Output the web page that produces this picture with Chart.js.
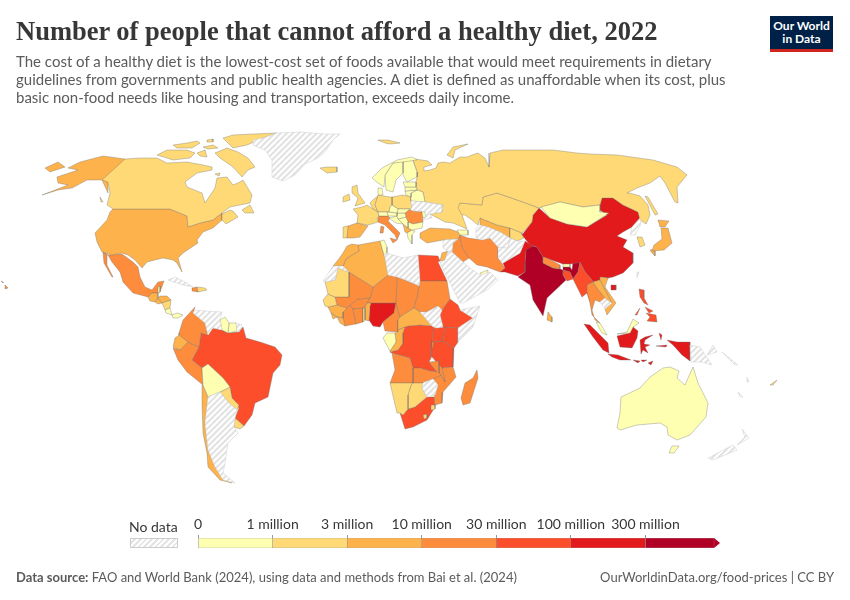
<!DOCTYPE html>
<html lang="en">
<head>
<meta charset="UTF-8" />
<title>Number of people that cannot afford a healthy diet, 2022</title>
<style>
  html, body { margin: 0; background: #fff; }
  #page { position: relative; width: 850px; height: 600px; overflow: hidden; font-family: Lato, sans-serif; }
  #page > * { position: absolute; }
  #map { left: 0; top: 0; }
  #legend { left: 120px; top: 505px; }
  h1 { left: 16px; top: 14px; margin: 0; font: bold 26.5px/34px "Liberation Serif", serif; color: #373737; white-space: nowrap; }
  #sub { left: 16px; top: 52px; margin: 0; font-size: 15px; line-height: 18px; color: #5b5b5b; white-space: nowrap; }
  #logo { left: 770px; top: 16px; width: 63px; height: 30px; padding-top: 3px; background: #002147; border-bottom: 3px solid #ce261e; color: #fff; font-size: 12px; font-weight: 700; line-height: 13px; text-align: center; }
  #nodata { left: 129px; top: 518px; width: 48px; text-align: center; font-size: 14px; color: #373737; white-space: nowrap; }
  #swatch { left: 130px; top: 538px; width: 46px; height: 8px; border: 1px solid #ccc;
    background: repeating-linear-gradient(135deg, #fff 0 2px, #e4e4e4 2px 4px); }
  #src { left: 16px; top: 569px; font-size: 13px; color: #5b5b5b; }
  #url { right: 16px; top: 569px; font-size: 13px; color: #5b5b5b; }
</style>
</head>
<body>
<div id="page">
  <canvas id="map" width="850" height="600"></canvas>
  <canvas id="legend" width="610" height="56"></canvas>
  <h1>Number of people that cannot afford a healthy diet, 2022</h1>
  <p id="sub">The cost of a healthy diet is the lowest-cost set of foods available that would meet requirements in dietary<br>guidelines from governments and public health agencies. A diet is defined as unaffordable when its cost, plus<br>basic non-food needs like housing and transportation, exceeds daily income.</p>
  <div id="logo">Our World<br>in Data</div>
  <div id="nodata">No data</div>
  <div id="swatch"></div>
  <div id="src"><b>Data source:</b> FAO and World Bank (2024), using data and methods from Bai et al. (2024)</div>
  <div id="url">OurWorldinData.org/food-prices | CC BY</div>
</div>

<script src="https://cdn.jsdelivr.net/npm/chart.js"></script>
<script>
  // legend
  const tickLabels = ['0', '1 million', '3 million', '10 million', '30 million', '100 million', '300 million', ''];
  const binColors = ['#ffffb2', '#fed976', '#feb24c', '#fd8d3c', '#fc4e2a', '#e31a1c', '#b10026'];
  const binWidths = [1, 1, 1, 1, 1, 1, 0.92];

  // outlines, in map units: no data
  const greenland = [[253,140],[263,138],[277,133],[300,132],[325,134],[340,134],[333,140],[325,152],[318,158],[305,164],[295,175],[283,181],[272,177],[272,160],[265,150],[253,145]];
  const ukraine = [[412,208],[411,201],[425,202],[443,205],[442,212],[430,214],[432,218],[423,220],[426,217],[425,212],[421,211],[413,211],[410,209]];
  const venezuela = [[193,313],[195,310],[205,311],[222,312],[220,320],[222,330],[213,328],[208,335],[205,323]];
  const frGuiana = [[236,323],[242,325],[239,332],[237,331]];
  const argentina = [[208,397],[220,392],[228,402],[237,410],[235,418],[234,427],[238,433],[228,443],[225,463],[223,473],[235,483],[223,480],[215,467],[208,450],[205,423]];
  const cuba = [[168,280],[175,277],[185,282],[193,287],[183,285]];
  const westSahara = [[323,281],[333,266],[343,266],[349,272],[338,268],[335,280],[325,282]];
  const libya = [[384,255],[387,253],[393,255],[403,258],[418,255],[420,281],[419,286],[410,281],[397,277],[388,275],[385,258]];
  const southSudan = [[420,312],[427,312],[438,306],[442,310],[440,315],[443,327],[436,328],[432,326]];
  const somalia = [[460,310],[480,306],[473,327],[458,342],[458,328],[473,318]];
  const arabia = [[440,263],[445,260],[448,251],[452,252],[463,262],[470,268],[480,275],[490,272],[498,280],[487,290],[463,303],[460,303],[450,283]];
  const syria = [[443,240],[458,239],[453,243],[452,252],[448,251],[443,248]];
  const turkmenistan = [[476,228],[480,225],[488,227],[500,232],[510,238],[508,248],[498,247],[490,238],[482,240],[476,238]];
  const afghanistan = [[498,247],[508,248],[510,238],[517,241],[525,241],[520,253],[503,263],[498,258]];
  const zimbabwe = [[423,383],[425,382],[433,379],[438,385],[435,395],[427,397],[422,388]];
  const cambodia = [[600,302],[605,298],[607,300],[612,303],[605,309]];
  const northKorea = [[632,227],[640,218],[641,222],[640,226],[635,235],[630,235]];
  const taiwan = [[637,272],[639,272],[637,278]];
  const png = [[690,345],[700,347],[712,365],[702,362],[691,362]];
  const newZealandN = [[742,429],[749,438],[737,445],[745,437]];
  const newZealandS = [[733,445],[737,450],[713,460],[708,458]];
  const newBritain = [[713,345],[717,352],[707,355]];
  const solomons = [[722,352],[738,365],[735,365]];
  const vanuatu = [[747,377],[749,382],[747,382]];
  const newCaledonia = [[738,392],[743,397],[740,397]];

  // 0 to 1 million
  const norway = [[372,178],[382,168],[397,160],[412,157],[417,160],[403,162],[393,163],[385,175],[384,187],[378,183]];
  const sweden = [[385,175],[393,163],[403,161],[403,173],[396,180],[393,192],[386,190]];
  const finland = [[403,162],[412,158],[417,172],[417,177],[407,182],[403,175]];
  const denmark = [[378,188],[382,188],[383,195],[378,195]];
  const estonia = [[403,182],[416,182],[416,187],[405,187]];
  const latvia = [[405,187],[416,187],[417,190],[405,191]];
  const lithuania = [[405,191],[417,190],[411,193],[411,197],[406,195]];
  const belarus = [[411,193],[417,190],[423,192],[425,202],[411,201]];
  const switzerland = [[378,212],[387,212],[388,216],[379,216]];
  const czechia = [[390,207],[392,205],[398,209],[397,213],[389,212]];
  const austria = [[387,212],[389,212],[397,213],[397,216],[388,216]];
  const slovakia = [[398,209],[410,209],[405,213],[397,213]];
  const hungary = [[397,213],[405,213],[406,217],[398,219],[397,216]];
  const croatia = [[389,218],[397,216],[398,219],[403,224],[396,223]];
  const serbia = [[398,219],[406,217],[408,222],[408,228],[403,224]];
  const bulgaria = [[408,222],[413,224],[423,222],[422,228],[412,230],[408,228]];
  const moldova = [[421,211],[425,212],[426,217],[423,218],[422,212]];
  const greece = [[407,233],[412,230],[415,231],[412,235],[412,244],[408,238]];
  const tunisia = [[380,241],[384,240],[387,247],[387,253],[384,255]];
  const uae = [[480,273],[488,270],[487,277],[482,277]];
  const caucasus = [[457,230],[468,230],[468,235],[460,235]];
  const gabon = [[383,338],[387,333],[395,333],[396,342],[390,351]];
  const guyana = [[220,320],[225,317],[229,323],[228,333],[222,330]];
  const suriname = [[229,323],[236,323],[237,331],[228,333]];
  const bolivia = [[208,364],[223,378],[230,387],[220,392],[208,397],[203,385],[202,368]];
  const belize = [[158,287],[160,286],[160,292],[158,293]];
  const costaRica = [[165,310],[170,308],[172,315],[166,313]];
  const panama = [[172,315],[177,313],[183,315],[178,318],[173,318]];
  const mongolia = [[541,207],[560,202],[583,207],[600,205],[600,212],[609,213],[587,227],[567,224],[550,218]];
  const bhutan = [[563,264],[570,264],[570,267],[563,267]];
  const malaya = [[596,322],[600,323],[607,335],[602,333]];
  const sabah = [[617,334],[627,332],[633,319],[639,323],[633,327],[630,333]];
  const australia = [[621,397],[640,388],[650,377],[663,368],[670,367],[679,371],[677,378],[685,385],[693,367],[698,383],[708,403],[706,417],[690,435],[677,440],[668,435],[667,427],[660,423],[637,425],[620,430],[617,428],[620,413]];
  const tasmania = [[672,446],[679,446],[674,453],[669,453]];

  // 1 to 3 million
  const canada = [[125,159],[102,180],[108,182],[110,193],[107,205],[113,209],[170,209],[187,216],[188,227],[200,223],[213,220],[222,213],[230,207],[250,203],[252,195],[243,180],[240,182],[233,185],[227,177],[217,178],[215,188],[205,203],[202,193],[187,187],[185,182],[197,173],[212,170],[212,167],[203,165],[187,162],[167,163],[157,158],[140,158]];
  const baffin = [[215,153],[227,148],[238,152],[248,158],[255,167],[248,170],[242,177],[233,167],[220,158]];
  const victoria = [[157,155],[167,150],[187,150],[195,153],[190,158],[173,160],[167,158]];
  const ellesmere = [[223,138],[233,135],[253,134],[277,133],[263,138],[247,145],[233,148],[227,142]];
  const devon = [[203,147],[213,145],[218,148],[208,149]];
  const melville = [[173,145],[187,143],[197,141],[200,143],[192,148],[177,148]];
  const axelHeiberg = [[207,140],[213,139],[213,142],[207,142]];
  const somerset = [[197,153],[205,150],[207,157],[200,156]];
  const southampton = [[215,174],[220,173],[219,176]];
  const newfoundland = [[242,210],[250,205],[254,213],[245,213]];
  const maritimes = [[222,214],[230,210],[233,211],[238,217],[226,224],[222,220]];
  const vancouver = [[100,197],[103,202],[101,202]];
  const iceland = [[320,168],[327,167],[337,167],[337,172],[327,173]];
  const svalbard = [[378,140],[388,140],[400,143],[390,144],[385,143]];
  const uk = [[352,187],[357,185],[358,193],[365,203],[355,206],[358,198],[352,193]];
  const ireland = [[343,197],[349,194],[350,200],[343,202]];
  const france = [[353,209],[362,207],[367,205],[373,209],[378,212],[379,216],[377,218],[378,222],[368,225],[357,223],[358,215]];
  const portugal = [[343,227],[348,226],[347,238],[343,238]];
  const germany = [[378,195],[390,197],[392,197],[392,205],[390,207],[389,212],[387,212],[378,212],[375,205]];
  const benelux = [[370,203],[374,199],[378,196],[375,205],[378,212],[373,209]];
  const poland = [[392,197],[403,195],[411,197],[411,201],[412,208],[410,209],[398,209],[392,205]];
  const russia = [[413,160],[417,172],[417,177],[416,182],[417,190],[423,192],[425,202],[443,205],[442,212],[430,214],[445,222],[453,223],[467,229],[462,215],[458,208],[460,203],[482,205],[483,197],[497,193],[523,202],[539,208],[542,207],[560,202],[583,207],[600,205],[602,198],[613,198],[623,205],[638,212],[640,220],[646,224],[650,215],[648,205],[640,196],[630,193],[627,193],[637,188],[650,183],[660,176],[665,183],[675,202],[678,203],[677,187],[687,175],[677,167],[653,160],[617,155],[590,154],[577,153],[553,150],[503,150],[490,153],[489,167],[485,158],[478,153],[472,155],[467,157],[460,157],[450,163],[443,162],[438,163],[436,168],[430,170],[424,171],[424,167],[432,165],[428,161],[415,159]];
  const novayaZemlya = [[447,155],[453,147],[468,144],[455,150],[453,158]];
  const sakhalin = [[645,196],[648,197],[658,214],[655,215]];
  const kazakhstan = [[457,208],[460,203],[482,205],[483,197],[497,193],[523,202],[539,208],[533,215],[532,222],[522,233],[510,228],[497,225],[480,218],[478,225],[472,220],[465,215],[460,215]];
  const kyrgyzstan = [[510,228],[522,233],[522,235],[524,238],[517,241],[510,238]];
  const mauritania = [[325,282],[335,280],[338,268],[349,272],[349,297],[335,297],[328,294]];
  const senegal = [[323,300],[328,294],[335,297],[337,305],[328,307],[325,306]];
  const togo = [[363,308],[365,308],[365,320],[363,322]];
  const namibia = [[390,383],[413,383],[411,385],[408,395],[408,409],[403,415],[400,413],[397,413]];
  const botswana = [[411,385],[413,383],[423,383],[422,388],[427,397],[415,407],[408,409],[408,395]];
  const eswatini = [[431,405],[435,405],[435,409],[432,410]];
  const lesotho = [[423,415],[427,414],[427,418],[424,419]];
  const paraguay = [[220,392],[230,387],[232,398],[239,405],[237,410],[228,402]];
  const uruguay = [[235,418],[244,426],[240,429],[234,427]];
  const nicaragua = [[162,303],[171,300],[170,308],[165,310]];
  const domRepublic = [[197,287],[205,288],[207,290],[198,292]];
  const southKorea = [[637,237],[642,237],[645,245],[640,247]];
  const fiji = [[770,385],[777,380],[773,385]];

  // 3 to 10 million
  const usa = [[113,209],[170,209],[187,216],[188,227],[200,223],[213,220],[222,213],[222,220],[213,228],[203,232],[197,240],[198,243],[183,253],[178,258],[182,272],[177,263],[173,260],[163,258],[147,262],[142,268],[135,260],[128,255],[122,253],[112,255],[102,252],[97,242],[95,233],[107,220],[110,212]];
  const alaska = [[125,159],[103,156],[80,162],[68,168],[78,170],[57,177],[58,183],[68,185],[42,195],[58,190],[72,188],[87,180],[102,180],[108,193],[108,182]];
  const aleutian = [[45,168],[58,162],[65,167],[50,172]];
  const guatemala = [[148,297],[152,293],[158,293],[158,298],[155,302],[150,301]];
  const honduras = [[158,298],[160,296],[167,296],[171,300],[162,303]];
  const salvador = [[155,302],[158,298],[162,303],[158,304]];
  const ecuador = [[175,338],[179,335],[188,342],[180,350],[173,347]];
  const chile = [[202,385],[204,387],[208,397],[205,423],[208,450],[215,467],[223,478],[232,483],[220,480],[208,467],[207,453],[203,433],[202,403]];
  const spain = [[348,226],[357,223],[368,226],[360,237],[353,238],[347,238]];
  const albania = [[403,224],[408,228],[412,230],[407,233],[405,232]];
  const morocco = [[333,266],[338,260],[343,253],[347,246],[352,244],[358,245],[359,251],[352,255],[346,259],[343,266]];
  const algeria = [[343,266],[346,259],[352,255],[359,251],[358,245],[380,241],[384,255],[385,258],[388,275],[373,287],[349,272]];
  const jordan = [[442,253],[448,251],[445,260],[440,261]];
  const turkey = [[420,233],[430,228],[450,229],[458,232],[460,235],[458,239],[443,240],[427,243],[420,238]];
  const uzbekistan = [[480,218],[497,225],[510,228],[510,238],[500,232],[488,227],[480,225]];
  const srilanka = [[548,312],[552,317],[552,322],[547,320]];
  const laos = [[593,282],[600,280],[605,290],[612,303],[607,300],[605,298],[597,288]];
  const vietnam = [[600,277],[608,278],[605,287],[616,303],[607,315],[605,309],[612,303],[605,290],[600,280]];
  const japanHonshu = [[661,228],[668,228],[672,243],[664,250],[652,251],[654,245],[662,239]];
  const japanHokkaido = [[658,220],[669,221],[665,227],[660,227]];
  const japanKyushu = [[650,250],[655,249],[655,256],[652,253]];
  const benin = [[365,308],[367,303],[371,303],[370,306],[369,321],[365,320]];
  const liberia = [[337,317],[343,318],[345,326],[340,323]];
  const sierraLeone = [[331,313],[337,317],[333,319]];
  const guinea = [[328,307],[337,305],[347,308],[343,312],[343,318],[337,317],[331,313]];
  const congo = [[395,333],[398,332],[398,330],[405,327],[403,333],[403,343],[398,350],[390,352],[390,351],[396,342]];
  const car = [[398,320],[400,317],[414,308],[420,312],[432,326],[420,325],[408,326],[405,327],[398,330]];

  // 10 to 30 million
  const hawaii = [[1,281],[3,282],[3,283]];
  const hawaiiBig = [[5,285],[8,288],[5,289]];
  const mexico = [[103,252],[108,255],[122,254],[133,262],[138,267],[140,277],[145,287],[152,290],[158,282],[164,281],[160,292],[158,293],[152,293],[148,297],[133,293],[123,282],[120,272],[112,262],[108,255]];
  const baja = [[103,252],[104,263],[112,277],[113,277],[107,265],[107,255]];
  const haiti = [[192,288],[197,287],[198,292],[192,291]];
  const colombia = [[195,307],[183,320],[179,333],[179,335],[188,342],[199,347],[201,333],[208,335],[205,323],[193,313]];
  const peru = [[173,348],[180,350],[188,342],[199,347],[192,360],[202,368],[203,385],[187,372],[178,360]];
  const romania = [[406,217],[405,213],[410,209],[413,211],[422,212],[423,222],[413,224],[408,222]];
  const italy = [[378,218],[379,216],[388,216],[390,218],[388,221],[395,228],[400,233],[397,240],[395,235],[385,225],[378,222]];
  const sicily = [[390,238],[397,240],[393,243]];
  const sardinia = [[381,226],[384,227],[383,233],[380,233]];
  const iran = [[460,235],[468,238],[482,240],[490,238],[498,247],[498,258],[505,268],[500,272],[487,267],[477,265],[469,258],[462,247]];
  const iraq = [[458,239],[460,235],[462,247],[469,258],[463,262],[452,252],[453,243]];
  const nepal = [[543,257],[547,258],[560,265],[560,269],[553,268],[543,263]];
  const thailand = [[587,285],[593,282],[597,288],[605,298],[600,302],[595,300],[592,310],[595,320],[600,323],[592,315],[590,303],[587,292]];
  const mali = [[349,272],[373,287],[370,298],[358,299],[350,305],[347,308],[337,305],[335,297],[349,297]];
  const niger = [[373,287],[388,275],[397,277],[396,303],[387,303],[371,303],[367,303],[370,298]];
  const chad = [[397,277],[419,286],[417,297],[415,303],[414,308],[400,317],[396,303]];
  const sudan = [[420,281],[447,281],[450,299],[442,310],[438,306],[427,312],[420,312],[414,308],[415,303],[417,297],[419,286]];
  const cameroon = [[396,303],[400,317],[398,320],[398,332],[385,331],[383,322],[394,313]];
  const ghana = [[353,309],[363,308],[363,322],[356,324]];
  const burkina = [[350,305],[358,299],[370,298],[367,303],[365,308],[353,309]];
  const ivoryCoast = [[343,312],[347,308],[350,305],[353,309],[356,324],[345,326],[343,318]];
  const rwanda = [[432,342],[434,342],[433,348],[431,348]];
  const angola = [[392,353],[410,358],[413,368],[413,383],[390,383],[395,370]];
  const zambia = [[413,368],[420,368],[430,371],[437,372],[429,362],[439,361],[439,365],[439,373],[441,375],[433,379],[425,382],[423,383],[413,383]];
  const malawi = [[439,365],[442,368],[445,382],[442,377],[439,373]];
  const mozambique = [[442,368],[453,367],[456,377],[443,392],[442,403],[435,405],[434,397],[435,395],[438,385],[433,379],[441,375],[439,373],[442,377],[445,382]];
  const madagascar = [[477,370],[478,378],[470,403],[463,405],[461,398],[465,383],[473,378]];

  // 30 to 100 million
  const brazil = [[213,328],[222,330],[228,333],[239,332],[243,327],[246,338],[260,342],[275,347],[282,355],[280,365],[273,373],[268,397],[255,403],[252,415],[244,426],[235,418],[239,408],[232,398],[230,387],[223,378],[208,364],[202,368],[192,360],[199,347],[201,333],[208,335]];
  const egypt = [[418,255],[438,256],[440,261],[438,262],[447,281],[420,281]];
  const ethiopia = [[450,299],[458,305],[460,310],[473,318],[458,328],[445,327],[443,327],[440,315],[442,310]];
  const kenya = [[445,327],[458,328],[458,342],[454,348],[443,341]];
  const uganda = [[436,328],[445,327],[443,341],[432,342],[433,330]];
  const tanzania = [[432,342],[443,341],[454,348],[453,367],[442,368],[439,365],[432,357]];
  const drc = [[403,333],[405,327],[408,326],[420,325],[432,326],[436,328],[433,330],[432,342],[431,348],[432,357],[429,362],[437,372],[430,371],[420,368],[413,368],[410,358],[392,353],[390,352],[398,350],[403,343]];
  const southAfrica = [[400,413],[403,415],[408,409],[415,407],[427,397],[434,397],[435,405],[435,407],[427,420],[413,427],[405,429]];
  const bangladesh = [[563,270],[570,272],[573,279],[567,281],[563,275]];
  const myanmar = [[580,262],[585,272],[592,280],[593,282],[587,285],[592,308],[587,293],[582,297],[573,279],[578,272]];
  const luzon = [[639,289],[644,290],[644,298],[648,305],[644,303],[640,297]];
  const mindanao = [[646,313],[656,315],[657,322],[647,321],[650,317]];
  const palawan = [[635,315],[640,308],[637,315]];
  const visayas = [[645,307],[653,311],[649,313]];

  // 100 to 300 million
  const china = [[539,208],[550,218],[567,224],[587,227],[607,215],[600,210],[600,205],[602,198],[613,198],[623,205],[638,212],[640,218],[632,227],[623,232],[617,236],[627,240],[623,247],[633,253],[633,263],[623,273],[613,277],[608,278],[600,277],[600,280],[593,282],[592,280],[585,272],[580,262],[578,263],[570,264],[563,264],[543,257],[537,247],[530,245],[522,235],[532,222],[533,215]];
  const hainan = [[611,285],[616,285],[616,290],[611,290]];
  const pakistan = [[500,272],[505,268],[503,263],[520,253],[525,241],[533,246],[526,250],[525,263],[525,272],[518,276],[505,272]];
  const nigeria = [[371,303],[387,303],[396,303],[394,313],[383,322],[380,327],[373,326],[369,320],[370,306]];
  const sumatra = [[584,324],[590,325],[600,335],[608,343],[609,353],[603,350],[593,337]];
  const java = [[608,354],[618,355],[631,360],[620,360],[612,357]];
  const kalimantan = [[617,336],[630,333],[633,327],[638,331],[637,338],[632,348],[620,347]];
  const sulawesi = [[640,340],[645,337],[653,335],[645,340],[644,344],[650,345],[645,347],[648,353],[643,350],[641,354]];
  const westPapua = [[667,340],[677,342],[690,342],[690,361],[682,355],[673,345]];
  const bali = [[633,360],[640,361],[638,363]];
  const flores = [[641,360],[647,360],[643,362]];
  const timor = [[648,363],[653,361],[651,365]];
  const halmahera = [[659,333],[662,335],[661,340]];
  const ceram = [[656,346],[667,345],[666,347]];

  // over 300 million
  const india = [[526,246],[533,246],[537,247],[543,257],[543,263],[553,268],[560,269],[563,270],[563,275],[566,280],[547,298],[543,316],[533,300],[530,285],[518,277],[525,272],[525,263],[526,250]];
  const indiaEast = [[563,267],[570,267],[572,270],[573,262],[580,262],[578,272],[573,279],[570,272],[563,270]];

  const noDataShapes = [greenland, ukraine, venezuela, frGuiana, argentina, cuba, westSahara, libya, southSudan, somalia, arabia, syria, turkmenistan, afghanistan, zimbabwe, cambodia, northKorea, taiwan, png, newZealandN, newZealandS, newBritain, solomons, vanuatu, newCaledonia];
  const binShapes = [
    [norway, sweden, finland, denmark, estonia, latvia, lithuania, belarus, switzerland, czechia, austria, slovakia, hungary, croatia, serbia, bulgaria, moldova, greece, tunisia, uae, caucasus, gabon, guyana, suriname, bolivia, belize, costaRica, panama, mongolia, bhutan, malaya, sabah, australia, tasmania],
    [canada, baffin, victoria, ellesmere, devon, melville, axelHeiberg, somerset, southampton, newfoundland, maritimes, vancouver, iceland, svalbard, uk, ireland, france, portugal, germany, benelux, poland, russia, novayaZemlya, sakhalin, kazakhstan, kyrgyzstan, mauritania, senegal, togo, namibia, botswana, eswatini, lesotho, paraguay, uruguay, nicaragua, domRepublic, southKorea, fiji],
    [usa, alaska, aleutian, guatemala, honduras, salvador, ecuador, chile, spain, albania, morocco, algeria, jordan, turkey, uzbekistan, srilanka, laos, vietnam, japanHonshu, japanHokkaido, japanKyushu, benin, liberia, sierraLeone, guinea, congo, car],
    [hawaii, hawaiiBig, mexico, baja, haiti, colombia, peru, romania, italy, sicily, sardinia, iran, iraq, nepal, thailand, mali, niger, chad, sudan, cameroon, ghana, burkina, ivoryCoast, rwanda, angola, zambia, malawi, mozambique, madagascar],
    [brazil, egypt, ethiopia, kenya, uganda, tanzania, drc, southAfrica, bangladesh, myanmar, luzon, mindanao, palawan, visayas],
    [china, hainan, pakistan, nigeria, sumatra, java, kalimantan, sulawesi, westPapua, bali, flores, timor, halmahera, ceram],
    [india, indiaEast]
  ];

  function hatchPattern() {
    const c = document.createElement('canvas');
    c.width = 6; c.height = 6;
    const g = c.getContext('2d');
    g.fillStyle = '#fff';
    g.fillRect(0, 0, 6, 6);
    g.strokeStyle = '#e2e2e2';
    g.lineWidth = 2;
    [[-3, 3, 3, -3], [0, 6, 6, 0], [3, 9, 9, 3]].forEach(l => {
      g.beginPath(); g.moveTo(l[0], l[1]); g.lineTo(l[2], l[3]); g.stroke();
    });
    return g.createPattern(c, 'repeat');
  }

  function outline(shape, fillColor, edge) {
    return {
      data: shape.concat([shape[0]]),
      showLine: true,
      fill: 'shape',
      backgroundColor: fillColor,
      borderColor: edge,
      borderWidth: 0.5,
      pointRadius: 0,
      tension: 0
    };
  }

  const mapSets = noDataShapes.map(s => outline(s, hatchPattern(), '#cfcfcf'));
  binShapes.forEach((shapes, i) => {
    shapes.forEach(s => mapSets.push(outline(s, binColors[i], 'rgba(110,110,110,0.7)')));
  });

  new Chart(document.getElementById('map'), {
    type: 'scatter',
    data: { datasets: mapSets },
    options: {
      responsive: false,
      animation: false,
      events: [],
      layout: { padding: 0 },
      plugins: { legend: { display: false }, tooltip: { enabled: false }, filler: { propagate: false } },
      scales: {
        x: { type: 'linear', min: 0, max: 850, display: false },
        y: { type: 'linear', min: 0, max: 600, reverse: true, display: false }
      }
    }
  });

  // the last bin of the colour scale ends in a small arrow
  const arrowTip = {
    id: 'arrowTip',
    afterDatasetsDraw(chart) {
      const x = chart.scales.x, bar = chart.getDatasetMeta(6).data[0];
      const g = chart.ctx;
      g.fillStyle = binColors[6];
      g.beginPath();
      g.moveTo(bar.x, bar.y - 5);
      g.lineTo(x.getPixelForValue(7), bar.y);
      g.lineTo(bar.x, bar.y + 5);
      g.closePath();
      g.fill();
    }
  };

  new Chart(document.getElementById('legend'), {
    type: 'bar',
    data: {
      labels: ['scale'],
      datasets: binWidths.map((w, i) => ({
        data: [w],
        backgroundColor: binColors[i],
        borderColor: '#8c8c8c',
        borderWidth: 0.5,
        borderSkipped: false,
        barThickness: 10
      }))
    },
    options: {
      indexAxis: 'y',
      responsive: false,
      animation: false,
      events: [],
      layout: { padding: { left: 78, right: 10, top: 0, bottom: 13 } },
      plugins: { legend: { display: false }, tooltip: { enabled: false } },
      scales: {
        x: {
          stacked: true,
          position: 'top',
          min: 0,
          max: 7,
          afterFit: (scale) => { scale.height = 33; },
          border: { display: false },
          grid: {
            drawOnChartArea: false,
            tickLength: 3,
            tickColor: (ctx) => ctx.index === 7 ? 'rgba(0,0,0,0)' : '#999'
          },
          ticks: {
            stepSize: 1,
            autoSkip: false,
            maxRotation: 0,
            padding: 2,
            color: '#373737',
            font: { family: 'Lato', size: 14 },
            callback: (v) => tickLabels[v]
          }
        },
        y: { stacked: true, display: false }
      }
    },
    plugins: [arrowTip]
  });
</script>
</body>
</html>
